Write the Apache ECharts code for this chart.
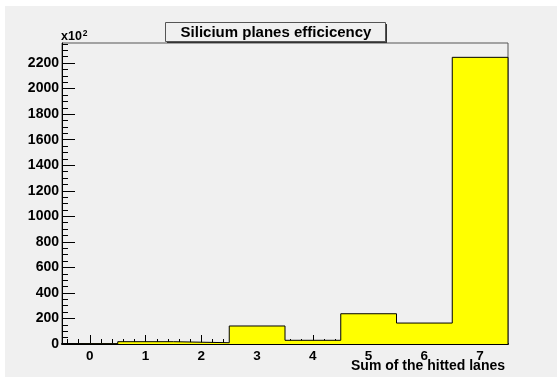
<!DOCTYPE html>
<html>
<head>
<meta charset="utf-8">
<script src="https://cdn.jsdelivr.net/npm/echarts@6/dist/echarts.min.js"></script>
<style>
html,body{margin:0;padding:0;background:#fff;}
#c{width:557px;height:377px;}
</style>
</head>
<body>
<div id="c"></div>
<script>
// ---- data ----
const binCenters = [0, 1, 2, 3, 4, 5, 6, 7];
const counts = [1, 18, 10, 141, 29, 237, 164, 2245]; // in units of 10^2
const xTickLabels = [0, 1, 2, 3, 4, 5, 6, 7];
const yTickLabels = [0, 200, 400, 600, 800, 1000, 1200, 1400, 1600, 1800, 2000, 2200];
const titleText = 'Silicium planes efficicency';
const xTitle = 'Sum of the hitted lanes';

// ---- derived ----
const xMin = -0.5, xMax = 7.5;
const yMax = Math.max(...counts) * 1.05;
const xMinor = [];
for (let v = -0.4; v < 7.5; v += 0.2) xMinor.push(Math.round(v * 10) / 10);
const yMinor = [];
for (let v = 0; v <= yMax; v += 50) yMinor.push(v);

// histogram outline (step) built from bin edges
const outline = [[binCenters[0] - 0.5, 0]];
binCenters.forEach((c, i) => {
  outline.push([c - 0.5, counts[i]]);
  outline.push([c + 0.5, counts[i]]);
});
outline.push([binCenters[binCenters.length - 1] + 0.5, 0]);

const font = '"Liberation Sans", Arial, Helvetica, sans-serif';
const plain = v => String(Math.round(v));
const chart = echarts.init(document.getElementById('c'), null, {renderer: 'canvas'});
chart.setOption({
  animation: false,
  backgroundColor: '#f0f0f0',
  grid: {left: 62, right: 49, top: 43, bottom: 33, show: true, borderColor: '#555', borderWidth: 1, backgroundColor: 'transparent'},
  xAxis: [
    {type: 'value', min: xMin, max: xMax, position: 'bottom',
     axisLine: {show: true, onZero: false, lineStyle: {color: '#000', width: 2}},
     axisTick: {show: true, inside: true, length: 9, customValues: xTickLabels, lineStyle: {color: '#000', width: 1}},
     axisLabel: {show: true, customValues: xTickLabels, formatter: plain, margin: 5, color: '#000', fontWeight: 'bold', fontSize: 13.5, fontFamily: font},
     splitLine: {show: false}},
    {type: 'value', min: xMin, max: xMax, position: 'bottom',
     axisLine: {show: false, onZero: false},
     axisTick: {show: true, inside: true, length: 5, customValues: xMinor, lineStyle: {color: '#000', width: 1}},
     axisLabel: {show: false},
     splitLine: {show: false}}
  ],
  yAxis: [
    {type: 'value', min: 0, max: yMax, position: 'left',
     axisLine: {show: true, onZero: false, lineStyle: {color: '#000', width: 1}},
     axisTick: {show: true, inside: true, length: 13, customValues: yTickLabels, lineStyle: {color: '#000', width: 1}},
     axisLabel: {show: true, customValues: yTickLabels, formatter: plain, margin: 3, color: '#000', fontWeight: 'bold', fontSize: 14, fontFamily: font},
     splitLine: {show: false}},
    {type: 'value', min: 0, max: yMax, position: 'left',
     axisLine: {show: false, onZero: false},
     axisTick: {show: true, inside: true, length: 6, customValues: yMinor, lineStyle: {color: '#000', width: 1}},
     axisLabel: {show: false},
     splitLine: {show: false}}
  ],
  series: [{
    type: 'line', xAxisIndex: 0, yAxisIndex: 0,
    data: outline, symbol: 'none', clip: false, z: 3,
    lineStyle: {color: '#000', width: 1},
    areaStyle: {color: '#ffff00', opacity: 1}
  }],
  graphic: [
    {type: 'rect', shape: {x: 0, y: 0, width: 557, height: 6}, style: {fill: '#fff'}, silent: true},
    {type: 'rect', shape: {x: 0, y: 0, width: 5, height: 377}, style: {fill: '#fff'}, silent: true},
    {type: 'rect', z: 100, shape: {x: 167, y: 24, width: 220, height: 19}, style: {fill: '#333'}},
    {type: 'rect', z: 101, shape: {x: 165.5, y: 22.5, width: 220, height: 19}, style: {fill: '#f0f0f0', stroke: '#555', lineWidth: 1}},
    {type: 'text', z: 102, x: 276, y: 32.5, style: {text: titleText, fill: '#000', font: 'bold 15px ' + font, align: 'center', verticalAlign: 'middle'}},
    {type: 'text', z: 102, x: 61, y: 37, style: {text: 'x10{s|2}', fill: '#000', font: 'bold 12.5px ' + font, verticalAlign: 'middle',
      rich: {s: {font: 'bold 8.5px ' + font, fill: '#000', verticalAlign: 'top', padding: [0, 0, 7, 1]}}}},
    {type: 'text', z: 102, x: 505, y: 366.5, style: {text: xTitle, fill: '#000', font: 'bold 14px ' + font, align: 'right', verticalAlign: 'middle'}}
  ]
});
</script>
</body>
</html>
